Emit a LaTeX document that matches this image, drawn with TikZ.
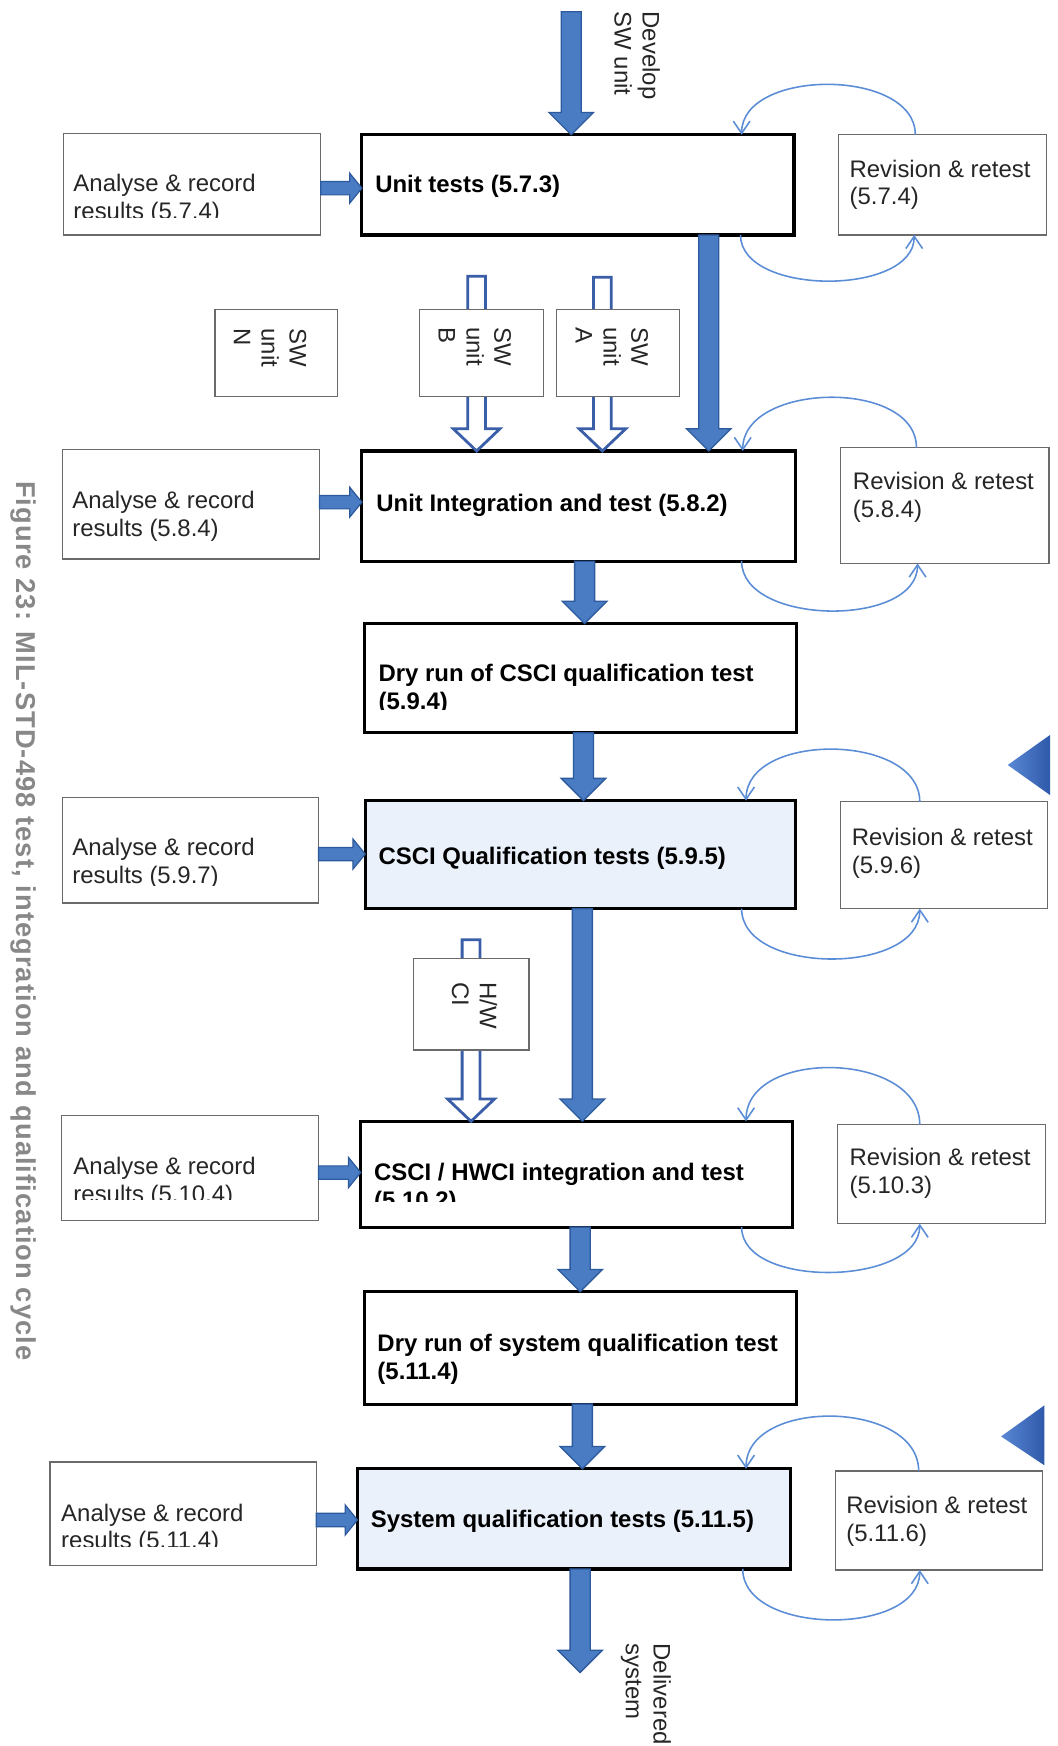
\documentclass[tikz,border=0pt]{standalone}
\usepackage{fontspec}
\setmainfont{Liberation Sans}
\newfontfamily\capfont[LetterSpace=4]{Liberation Sans}
\usetikzlibrary{calc,arrows.meta}

\definecolor{arrowfill}{HTML}{4A7CC4}
\definecolor{arrowline}{HTML}{2D5A9C}
\definecolor{hollowline}{HTML}{3A5FA8}
\definecolor{loopblue}{HTML}{5B8DD6}
\definecolor{qualfill}{HTML}{EAF1FB}
\definecolor{boxgray}{HTML}{6A6A6A}
\definecolor{captiongray}{HTML}{888888}
\definecolor{triA}{HTML}{5A88D4}
\definecolor{triB}{HTML}{2F59AA}

% left-aligned stack of lines whose baseline is the first line
\newcommand\linesof[1]{\begin{tabular}[t]{@{}l@{}}#1\end{tabular}}

\begin{document}
\begin{tikzpicture}[x=1pt,y=-1pt,
  stage/.style={draw=black, line width=2.8pt, fill=white, inner sep=0pt, outer sep=0pt, anchor=north west},
  qual/.style={stage, fill=qualfill},
  side/.style={draw=boxgray, line width=1.1pt, fill=white, inner sep=0pt, outer sep=0pt, anchor=north west},
  txt/.style={inner sep=0pt, outer sep=0pt, anchor=base west, font=\fontsize{21.5}{25}\selectfont, text=black!85},
  boldtxt/.style={txt, font=\fontsize{21.5}{25}\selectfont\bfseries, text=black},
  vtxt/.style={txt, rotate=-90},
  loopline/.style={draw=loopblue, line width=1.4pt, -{Straight Barb[length=11pt,width=15pt]}},
  vblock/.style={fill=arrowfill, draw=arrowline, line width=1.2pt, line join=miter,
    to path={let \p1=(\tikztostart), \p2=(\tikztotarget) in
      (\x1-9pt,\y1) -- (\x1+9pt,\y1) -- (\x1+9pt,\y2+20pt) -- (\x1+20pt,\y2+20pt)
      -- (\x1,\y2) -- (\x1-20pt,\y2+20pt) -- (\x1-9pt,\y2+20pt) -- cycle}},
  hollow/.style={fill=white, draw=hollowline, line width=2.5pt, line join=miter,
    to path={let \p1=(\tikztostart), \p2=(\tikztotarget) in
      (\x1-8pt,\y1) -- (\x1+8pt,\y1) -- (\x1+8pt,\y2+20pt) -- (\x1+21pt,\y2+20pt)
      -- (\x1,\y2) -- (\x1-21pt,\y2+20pt) -- (\x1-8pt,\y2+20pt) -- cycle}},
  hblock/.style={fill=arrowfill, draw=arrowline, line width=1.1pt, line join=miter,
    to path={let \p1=(\tikztostart), \p2=(\tikztotarget) in
      (\x1,\y1+6pt) -- (\x2-11pt,\y1+6pt) -- (\x2-11pt,\y1+13.5pt) -- (\x2,\y1)
      -- (\x2-11pt,\y1-13.5pt) -- (\x2-11pt,\y1-6pt) -- (\x1,\y1-6pt) -- cycle}},
]

\fill[white] (0,0) rectangle (950,1568);
\useasboundingbox (0,0) rectangle (950,1568);

% ---------- boxes of the main column ----------
\node[stage, minimum width=388pt, minimum height=90pt] (m1) at (325,121) {};
\node[stage, minimum width=389pt, minimum height=99pt] (m2) at (325,405) {};
\node[stage, minimum width=388pt, minimum height=98pt] (m3) at (327,560) {};
\node[qual,  minimum width=386pt, minimum height=97pt] (m4) at (328,719) {};
\node[stage, minimum width=388pt, minimum height=95pt] (m5) at (324,1007) {};
\node[stage, minimum width=388pt, minimum height=101pt] (m6) at (327,1160) {};
\node[qual,  minimum width=389pt, minimum height=90pt] (m7) at (321,1319) {};

% ---------- hollow arrows of the units (behind their boxes) ----------
\coordinate (swbtop) at (428,248);
\coordinate (swatop) at (541,249);
\coordinate (hwtop) at (423,844);
\draw[hollow] (swbtop) to (428,0 |- m2.north);
\draw[hollow] (swatop) to (541,0 |- m2.north);
\draw[hollow] (hwtop) to (423,0 |- m5.north);

% ---------- analyse boxes ----------
\node[side, minimum width=231pt, minimum height=91pt] (a1) at (57,120) {};
\node[side, minimum width=231pt, minimum height=98pt] (a2) at (56,404) {};
\node[side, minimum width=230pt, minimum height=95pt] (a3) at (56,716) {};
\node[side, minimum width=231pt, minimum height=94pt] (a4) at (55,1002) {};
\node[side, minimum width=239pt, minimum height=93pt] (a5) at (45,1313) {};

% ---------- revision boxes ----------
\node[side, minimum width=187pt, minimum height=90pt] (r1) at (753,121) {};
\node[side, minimum width=187pt, minimum height=104pt] (r2) at (755,402) {};
\node[side, minimum width=186pt, minimum height=96pt] (r3) at (755,720) {};
\node[side, minimum width=187pt, minimum height=89pt] (r4) at (752,1010) {};
\node[side, minimum width=186pt, minimum height=89pt] (r5) at (750,1321) {};

% ---------- unit boxes ----------
\node[side, minimum width=110pt, minimum height=78pt] (swn) at (193,278) {};
\node[side, minimum width=111pt, minimum height=78pt] (swb) at (377,278) {};
\node[side, minimum width=110pt, minimum height=78pt] (swa) at (500,278) {};
\node[side, minimum width=104pt, minimum height=82pt] (hwci) at (371,861) {};

% ---------- main flow arrows ----------
\coordinate (devtop) at (513,10.5);
\coordinate (delivered) at (521,1502);
\draw[vblock] (devtop) to (513,0 |- m1.north);
\draw[vblock] (636.5,0 |- m1.south) to (636.5,0 |- m2.north);
\draw[vblock] (525,0 |- m2.south) to (525,0 |- m3.north);
\draw[vblock] (524,0 |- m3.south) to (524,0 |- m4.north);
\draw[vblock] (523,0 |- m4.south) to (523,0 |- m5.north);
\draw[vblock] (521,0 |- m5.south) to (521,0 |- m6.north);
\draw[vblock] (523,0 |- m6.south) to (523,0 |- m7.north);
\draw[vblock] (521,0 |- m7.south) to (delivered);

% ---------- analyse -> test arrows ----------
\draw[hblock] (a1.east |- 0,169) to (m1.west |- 0,169);
\draw[hblock] (a2.east |- 0,451) to (m2.west |- 0,451);
\draw[hblock] (a3.east |- 0,767) to (m4.west |- 0,767);
\draw[hblock] (a4.east |- 0,1053) to (m5.west |- 0,1053);
\draw[hblock] (a5.east |- 0,1365) to (m7.west |- 0,1365);

% ---------- revision loops ----------
\draw[loopline] (822,0 |- r1.north) .. controls +(0,-60) and +(0,-60) .. (666,0 |- m1.north);
\draw[loopline] (665,0 |- m1.south) .. controls +(0,55) and +(0,55) .. (821,0 |- r1.south);
\draw[loopline] (823,0 |- r2.north) .. controls +(0,-62) and +(0,-62) .. (667,0 |- m2.north);
\draw[loopline] (666,0 |- m2.south) .. controls +(0,58) and +(0,58) .. (824,0 |- r2.south);
\draw[loopline] (826,0 |- r3.north) .. controls +(0,-62) and +(0,-62) .. (670,0 |- m4.north);
\draw[loopline] (666,0 |- m4.south) .. controls +(0,60) and +(0,60) .. (826,0 |- r3.south);
\draw[loopline] (826,0 |- r4.north) .. controls +(0,-66) and +(0,-66) .. (670,0 |- m5.north);
\draw[loopline] (666,0 |- m5.south) .. controls +(0,56) and +(0,56) .. (826,0 |- r4.south);
\draw[loopline] (825,0 |- r5.north) .. controls +(0,-64) and +(0,-64) .. (670,0 |- m7.north);
\draw[loopline] (667,0 |- m7.south) .. controls +(0,60) and +(0,60) .. (826,0 |- r5.south);

% ---------- marker triangles ----------
\shade[left color=triA, right color=triB] (905,687) -- (943,660) -- (943,714) -- cycle;
\shade[left color=triA, right color=triB] (899,1290) -- (938,1262) -- (938,1316) -- cycle;

% ---------- texts of the main column ----------
\node[boldtxt] (m1t) at (337,173) {Unit tests (5.7.3)};
\node[boldtxt] (m2t) at (338,459) {Unit Integration and test (5.8.2)};
\begin{scope}
  \clip (330,565) rectangle (712,637);
  \node[boldtxt] (m3t) at (340,612) {\linesof{Dry run of CSCI qualification test\\(5.9.4)}};
\end{scope}
\node[boldtxt] (m4t) at (340,776) {CSCI Qualification tests (5.9.5)};
\begin{scope}
  \clip (328,1012) rectangle (708,1079);
  \node[boldtxt] (m5t) at (336,1060) {\linesof{CSCI / HWCI integration and test\\(5.10.2)}};
\end{scope}
\node[boldtxt] (m6t) at (339,1214) {\linesof{Dry run of system qualification test\\(5.11.4)}};
\node[boldtxt] (m7t) at (333,1372) {System qualification tests (5.11.5)};

% ---------- texts of the analyse boxes ----------
\begin{scope}
  \clip (60,125) rectangle (285,195.5);
  \node[txt] (a1t) at (66,172) {\linesof{Analyse \& record\\results (5.7.4)}};
\end{scope}
\node[txt] (a2t) at (65,457) {\linesof{Analyse \& record\\results (5.8.4)}};
\begin{scope}
  \clip (60,720) rectangle (284,795.5);
  \node[txt] (a3t) at (65,768) {\linesof{Analyse \& record\\results (5.9.7)}};
\end{scope}
\begin{scope}
  \clip (60,1006) rectangle (284,1077.5);
  \node[txt] (a4t) at (66,1055) {\linesof{Analyse \& record\\results (5.10.4)}};
\end{scope}
\begin{scope}
  \clip (48,1317) rectangle (282,1389);
  \node[txt] (a5t) at (55,1366) {\linesof{Analyse \& record\\results (5.11.4)}};
\end{scope}

% ---------- texts of the revision boxes ----------
\node[txt] (r1t) at (763,159) {\linesof{Revision \& retest\\(5.7.4)}};
\node[txt] (r2t) at (766,440) {\linesof{Revision \& retest\\(5.8.4)}};
\node[txt] (r3t) at (765,759) {\linesof{Revision \& retest\\(5.9.6)}};
\node[txt] (r4t) at (763,1047) {\linesof{Revision \& retest\\(5.10.3)}};
\node[txt] (r5t) at (760,1359) {\linesof{Revision \& retest\\(5.11.6)}};

% ---------- vertical labels ----------
\node[vtxt] (swnt) at (260,295) {\linesof{SW\\unit\\N}};
\node[vtxt] (swbt) at (444,294) {\linesof{SW\\unit\\B}};
\node[vtxt] (swat) at (567,294) {\linesof{SW\\unit\\A}};
\node[vtxt] (hwt) at (431,882) {\linesof{H/W\\CI}};
\node[vtxt] (devt) at (577,10.5) {\linesof{Develop\\SW unit}};
\node[vtxt] (delt) at (587,1476) {\linesof{Delivered\\system}};

% ---------- caption ----------
\node[vtxt, text=captiongray, font=\capfont\bfseries\fontsize{24.5}{28}\selectfont] (caption) at (14.5,432)
  {Figure 23: MIL-STD-498 test, integration and qualification cycle};

\end{tikzpicture}
\end{document}
